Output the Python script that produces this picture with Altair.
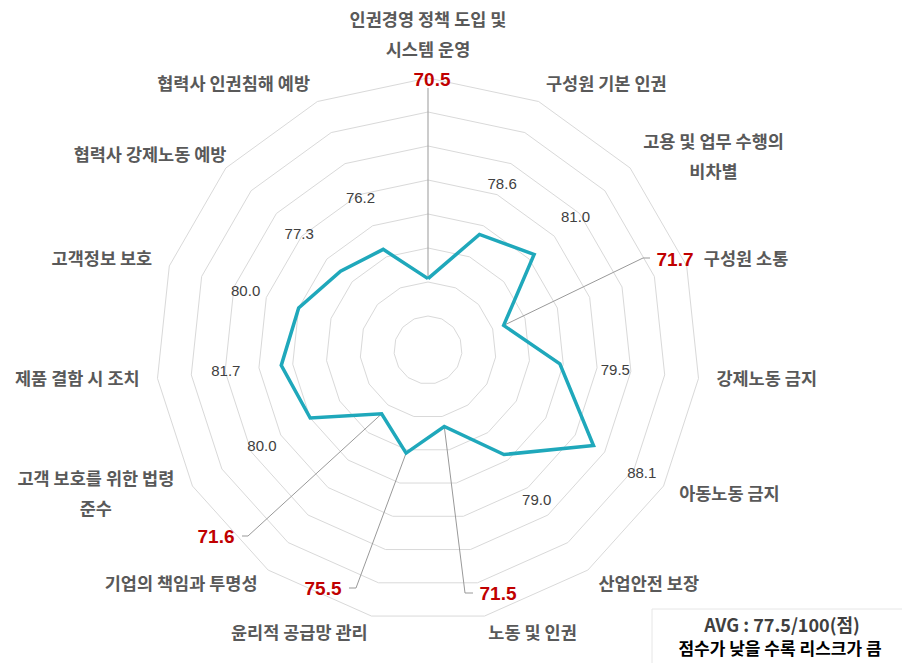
import math
import altair as alt
import pandas as pd

# ---------------- data ----------------
categories = [
    "인권경영 정책 도입 및\n시스템 운영",
    "구성원 기본 인권",
    "고용 및 업무 수행의\n비차별",
    "구성원 소통",
    "강제노동 금지",
    "아동노동 금지",
    "산업안전 보장",
    "노동 및 인권",
    "윤리적 공급망 관리",
    "기업의 책임과 투명성",
    "고객 보호를 위한 법령\n준수",
    "제품 결함 시 조치",
    "고객정보 보호",
    "협력사 강제노동 예방",
    "협력사 인권침해 예방",
]
scores = [70.5, 78.6, 81.0, 71.7, 79.5, 88.1, 79.0, 71.5, 75.5, 71.6, 80.0, 81.7, 80.0, 77.3, 76.2]
highlight = [True, False, False, True, False, False, False, True, True, True, False, False, False, False, False]
ring_levels = [65, 70, 75, 80, 85, 90, 95, 100]
r_min = 60
avg_text = "AVG : 77.5/100(점)"
note_text = "점수가 낮을 수록 리스크가 큼"

# ---------------- layout ----------------
W, H = 894, 655
PX = 6.8              # pixels per score unit
CX, CY = 420, 342     # centre of the radar in plot pixels
N = len(categories)
LABEL_R = 290         # category label radius (px)
VALUE_GAP = 8.2       # grey value labels sit this many units outside the point

# align group and extra offsets (px) of each category label
label_align = ["center", "left", "center", "left", "left", "left", "left", "left",
               "right", "right", "center", "right", "right", "right", "right"]
label_dx = [0, 0, 70, 0, 0, 0, 0, 0, 0, 0, -81, 0, 0, 14, 0]
label_dy = [-39, 0, -13, 0, 0, 0, 0, 0, 0, 0, -15, 0, 0, 0, 0]
# red call-out label centre, elbow and end of leader (px from centre, y down)
callout_pos = {0: (4, -270), 3: (247, -90), 7: (70, 244), 8: (-105, 239), 9: (-212, 187)}
callout_elbow = {0: ((0, -262), (0, -262)), 3: ((215, -92), (222, -92)),
                 7: ((37, 243), (45, 243)), 8: ((-72, 238), (-79, 238)),
                 9: ((-180, 186), (-186, 186))}

xs = alt.Scale(domain=[-CX / PX, (W - CX) / PX], nice=False, zero=False)
ys = alt.Scale(domain=[-(H - CY) / PX, CY / PX], nice=False, zero=False)


def polar(i, r):
    th = 2 * math.pi * i / N
    return r * math.sin(th), r * math.cos(th)


def XY():
    return dict(x=alt.X("x:Q", scale=xs, axis=None), y=alt.Y("y:Q", scale=ys, axis=None))


# grid rings
grid_rows = []
for lvl in ring_levels:
    for k in range(N + 1):
        x, y = polar(k % N, lvl - r_min)
        grid_rows.append({"ring": lvl, "k": k, "x": x, "y": y})
grid = alt.Chart(pd.DataFrame(grid_rows)).mark_line(color="#D9D9D9", strokeWidth=1).encode(
    **XY(), detail="ring:N", order="k:Q")

# series
ser_rows = []
for k in range(N + 1):
    i = k % N
    x, y = polar(i, scores[i] - r_min)
    ser_rows.append({"k": k, "x": x, "y": y})
series = alt.Chart(pd.DataFrame(ser_rows)).mark_line(color="#1FA8BB", strokeWidth=3.5).encode(
    **XY(), order="k:Q")

# leaders
lead_rows = []
for i, (elb, end) in callout_elbow.items():
    x, y = polar(i, scores[i] - r_min)
    lead_rows.append({"c": i, "k": 0, "x": x, "y": y})
    lead_rows.append({"c": i, "k": 1, "x": elb[0] / PX, "y": -elb[1] / PX})
    lead_rows.append({"c": i, "k": 2, "x": end[0] / PX, "y": -end[1] / PX})
leaders = alt.Chart(pd.DataFrame(lead_rows)).mark_line(color="#999999", strokeWidth=1).encode(
    **XY(), detail="c:N", order="k:Q")

# grey value labels
val_rows = []
for i, v in enumerate(scores):
    if not highlight[i]:
        x, y = polar(i, v - r_min + VALUE_GAP)
        val_rows.append({"x": x, "y": y, "t": f"{v:.1f}"})
values = alt.Chart(pd.DataFrame(val_rows)).mark_text(
    font="Liberation Sans", fontSize=15, color="#404040", align="center", baseline="middle"
).encode(**XY(), text="t:N")

# red call-out labels
red_rows = []
for i, (dx, dy) in callout_pos.items():
    red_rows.append({"x": dx / PX, "y": -dy / PX, "t": f"{scores[i]:.1f}"})
reds = alt.Chart(pd.DataFrame(red_rows)).mark_text(
    font="Liberation Sans", fontSize=19, fontWeight="bold", color="#C00000",
    align="center", baseline="middle"
).encode(**XY(), text="t:N")

# category labels
cat_rows = []
for i, c in enumerate(categories):
    x, y = polar(i, LABEL_R / PX)
    cat_rows.append({"x": x + label_dx[i] / PX, "y": y - label_dy[i] / PX, "t": c, "g": label_align[i]})
cat_df = pd.DataFrame(cat_rows)
cat_layers = []
for g, al in [("left", "left"), ("right", "right"), ("center", "center")]:
    cat_layers.append(
        alt.Chart(cat_df[cat_df.g == g]).mark_text(
            font="Noto Sans CJK KR", fontSize=17.5, fontWeight="bold", color="#595959",
            align=al, baseline="middle", lineBreak="\n", lineHeight=30
        ).encode(**XY(), text="t:N")
    )

# note box
box = alt.Chart(pd.DataFrame({"a": [0]})).mark_rect(fill="white", stroke="#E6E6E6", strokeWidth=1).encode(
    x=alt.value(644), x2=alt.value(920), y=alt.value(601), y2=alt.value(680))
avg = alt.Chart(pd.DataFrame({"t": [avg_text]})).mark_text(
    font="Noto Sans CJK KR", fontSize=18, fontWeight="bold", color="#404040",
    align="center", baseline="middle").encode(x=alt.value(774), y=alt.value(619), text="t:N")
note = alt.Chart(pd.DataFrame({"t": [note_text]})).mark_text(
    font="Noto Sans CJK KR", fontSize=17, fontWeight="bold", color="#000000",
    align="center", baseline="middle").encode(x=alt.value(772), y=alt.value(642), text="t:N")

chart = alt.layer(grid, leaders, series, values, reds, *cat_layers, box, avg, note).properties(
    width=W, height=H, padding=0, autosize=alt.AutoSizeParams(type="none")
).configure_view(stroke=None)

chart.save("out.html", embed_options={"renderer": "svg", "actions": False})
